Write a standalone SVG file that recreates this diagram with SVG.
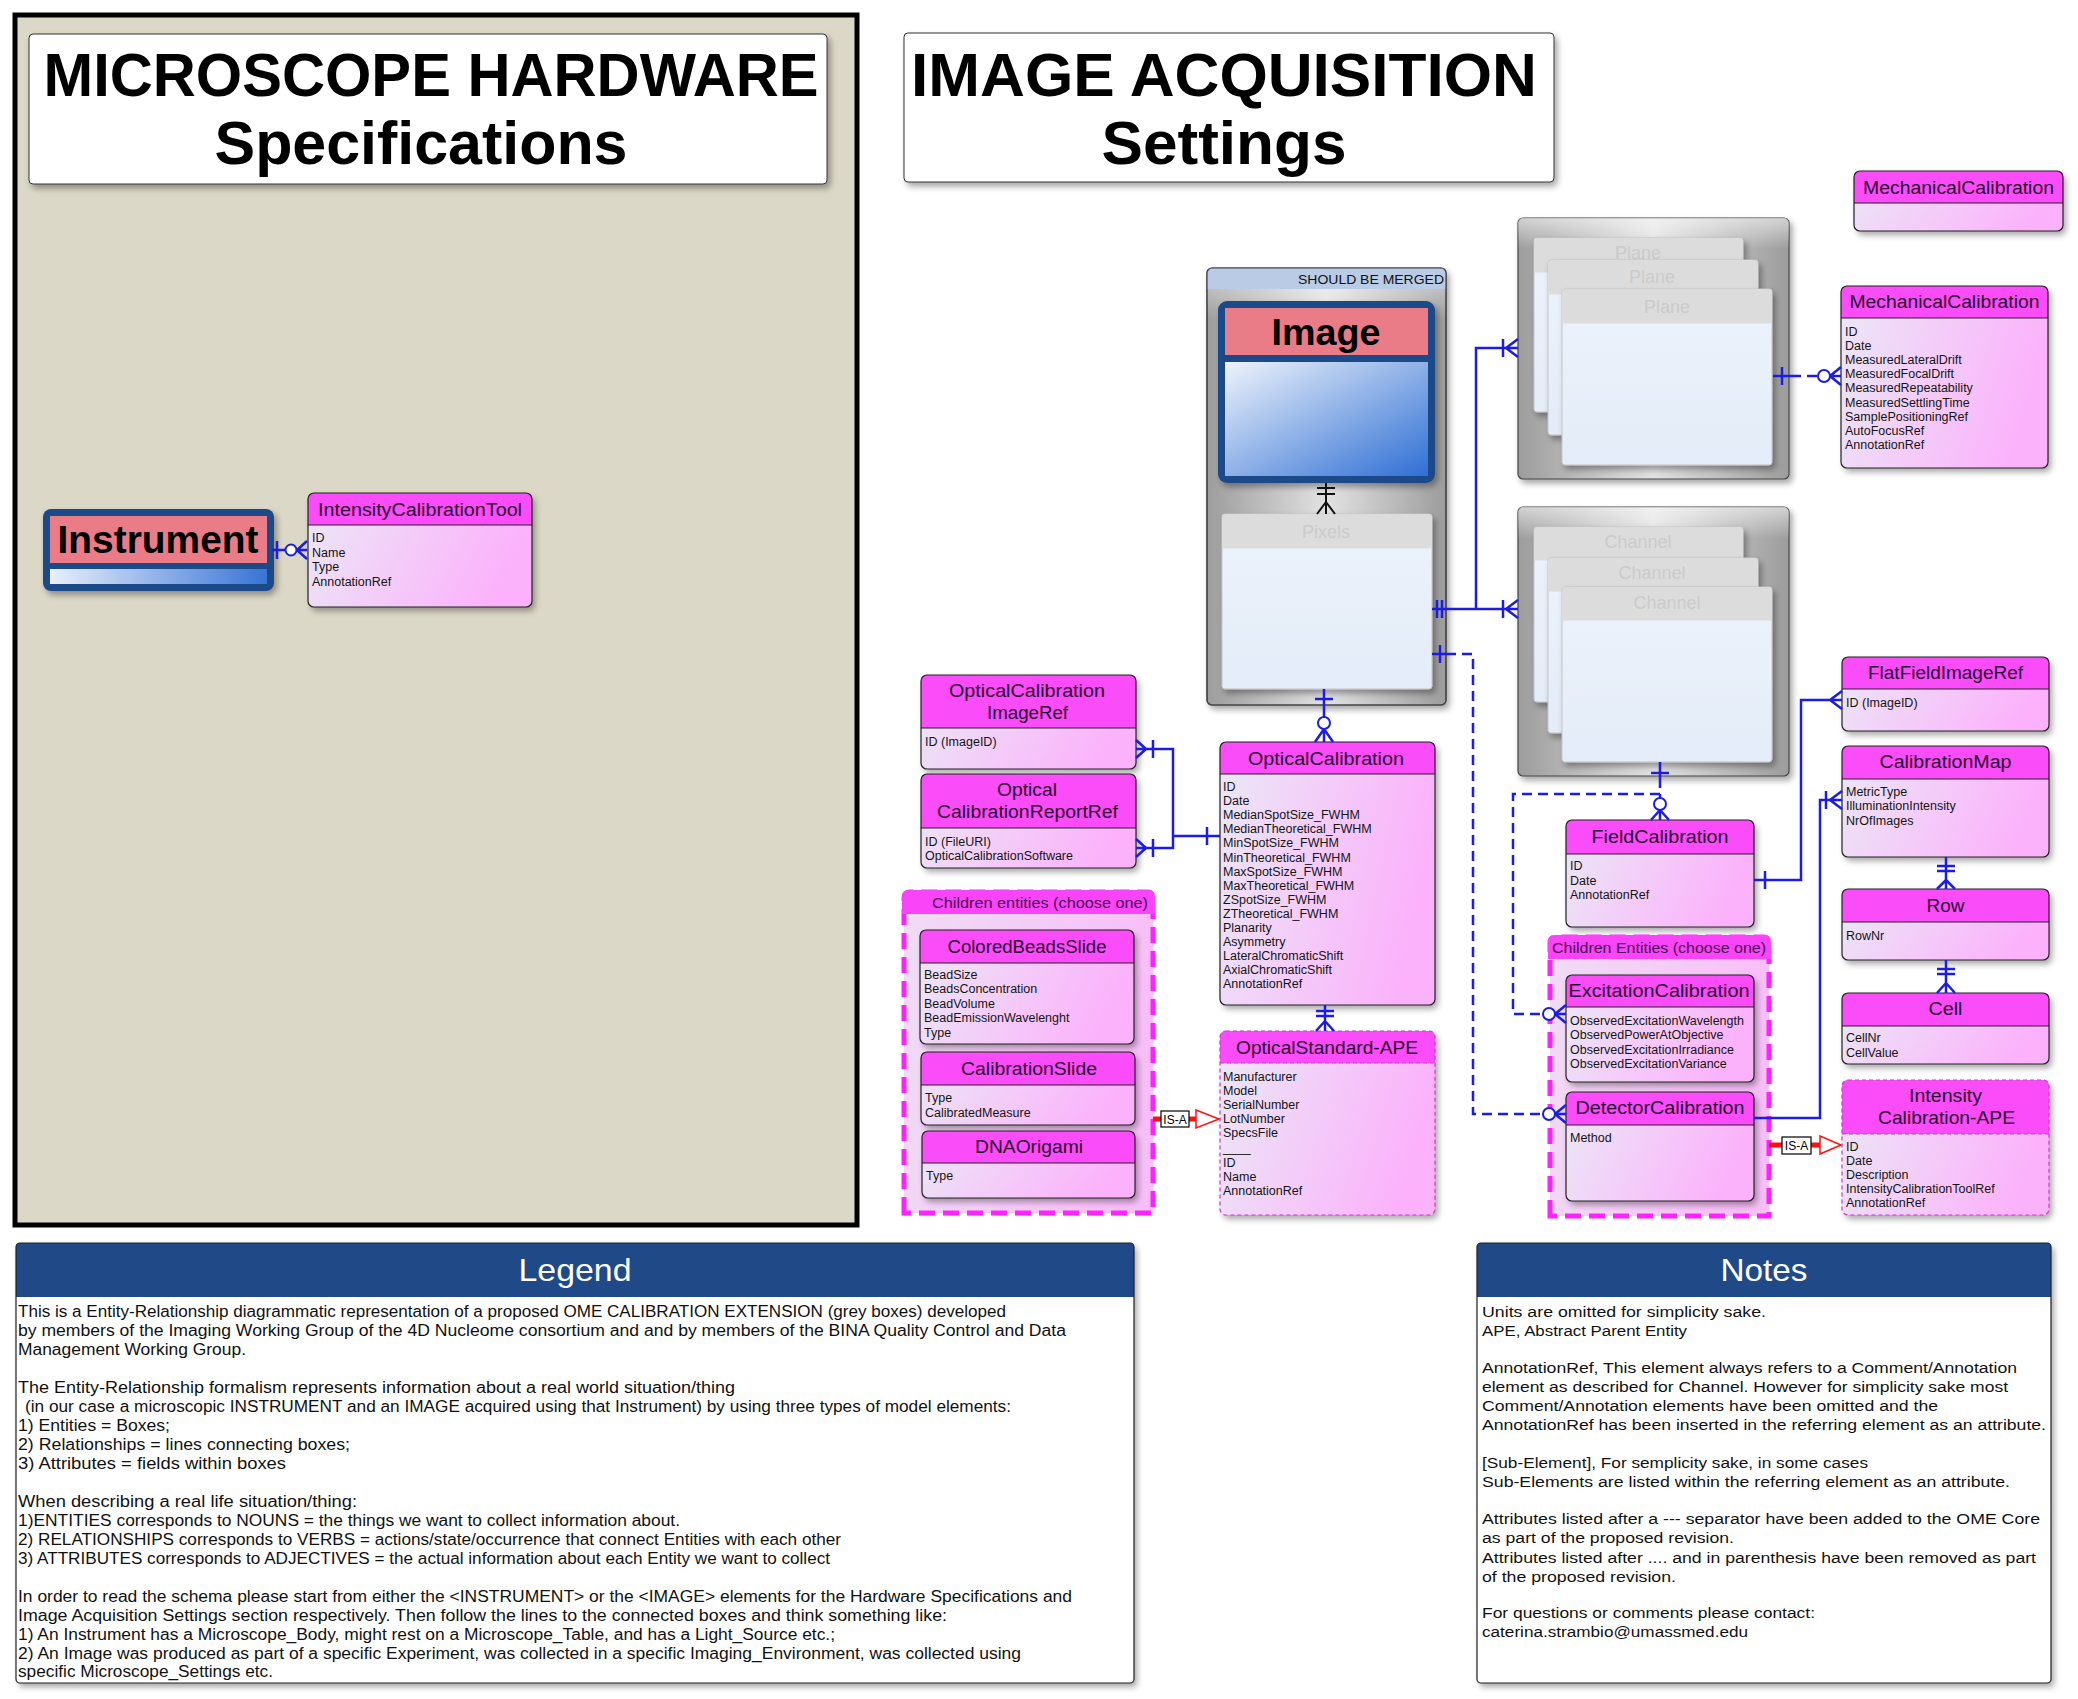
<svg xmlns="http://www.w3.org/2000/svg" width="2078" height="1699" viewBox="0 0 2078 1699">
<style>
  text { font-family: "Liberation Sans", Arial, sans-serif; }
  .body { fill: url(#gBody); }
  .head { fill: #fa4cf8; }
  .frame { fill: none; stroke: #222; stroke-width: 1.2; }
  .frameD { fill: none; stroke: #c83cc8; stroke-width: 1.2; stroke-dasharray: 4 3; }
  .sep { stroke: #222; stroke-width: 1.2; }
  .sepD { stroke: #c83cc8; stroke-width: 1.2; stroke-dasharray: 4 3; }
  .ttl { font-size: 18px; fill: #2a0830; text-anchor: middle; }
  .att { font-size: 12.5px; fill: #151515; }
  .cardTxt { font-size: 18px; fill: #cbcbcb; text-anchor: middle; }
  .card { fill: url(#gCard); stroke: #c4c4c4; stroke-width: 1; }
  .cardHead { fill: #dcdcdc; }
  .grp { fill: url(#gGroup); stroke: #ff22ff; stroke-width: 5; stroke-dasharray: 16 8; }
  .grpBand { fill: #fa44f8; }
  .grpTxt { font-size: 14px; fill: #4a0a52; text-anchor: middle; }
  .ln { fill: none; stroke: #1c1ce6; stroke-width: 2.5; }
  .dash { fill: none; stroke: #1c1ce6; stroke-width: 2.5; stroke-dasharray: 10 6; }
  .ring { fill: #fff; stroke: #1c1ce6; stroke-width: 2; }
  .blk { fill: none; stroke: #111; stroke-width: 2; }
  .isa { fill: none; stroke: #ff1010; stroke-width: 5; }
  .isaBox { fill: #fff; stroke: #000; stroke-width: 1.2; }
  .isaTxt { font-size: 12px; fill: #000; text-anchor: middle; }
  .tri { fill: #fff; stroke: #ff1010; stroke-width: 1.5; }
  .big { font-size: 61px; font-weight: bold; fill: #000; text-anchor: middle; }
  .lg { font-size: 16px; fill: #111; }
  .nt { font-size: 15.5px; fill: #111; }
  .hdrTxt { font-size: 32px; fill: #fff; text-anchor: middle; }
</style>
<defs>
  <linearGradient id="gBody" x1="0" y1="0" x2="1" y2="0.25">
    <stop offset="0" stop-color="#ebe8f6"/>
    <stop offset="1" stop-color="#fbb2fb"/>
  </linearGradient>
  <linearGradient id="gGroup" x1="0" y1="0" x2="1" y2="0.2">
    <stop offset="0" stop-color="#f0dcf4"/>
    <stop offset="1" stop-color="#f8bef8"/>
  </linearGradient>
  <linearGradient id="gCard" x1="0" y1="0" x2="0" y2="1">
    <stop offset="0" stop-color="#edf3fb"/>
    <stop offset="1" stop-color="#e3ecf8"/>
  </linearGradient>
  <linearGradient id="gGray" x1="0" y1="0" x2="1" y2="0">
    <stop offset="0" stop-color="#9c9c9c"/>
    <stop offset="0.5" stop-color="#e2e2e2"/>
    <stop offset="1" stop-color="#9c9c9c"/>
  </linearGradient>
  <linearGradient id="gGrayTop" x1="0" y1="0" x2="0" y2="1">
    <stop offset="0" stop-color="#ffffff" stop-opacity="0.55"/>
    <stop offset="0.12" stop-color="#ffffff" stop-opacity="0"/>
    <stop offset="1" stop-color="#ffffff" stop-opacity="0"/>
  </linearGradient>
  <linearGradient id="gBlue" x1="0" y1="0" x2="1" y2="1">
    <stop offset="0" stop-color="#eef3fb"/>
    <stop offset="1" stop-color="#2f6fd4"/>
  </linearGradient>
  <linearGradient id="gBar" x1="0" y1="0" x2="1" y2="0">
    <stop offset="0" stop-color="#e8effa"/>
    <stop offset="1" stop-color="#3874d6"/>
  </linearGradient>
  <filter id="sh" x="-10%" y="-10%" width="130%" height="130%">
    <feDropShadow dx="3" dy="4" stdDeviation="3" flood-color="#000" flood-opacity="0.35"/>
  </filter>
</defs>

<!-- hardware panel -->
<rect x="15" y="15" width="842" height="1210" fill="#dcd8c7" stroke="#000" stroke-width="5"/>

<g id="title-hardware">
  <rect x="29" y="34" width="798" height="150" rx="4" fill="#fff" stroke="#333" stroke-width="1" filter="url(#sh)"/>
  <text class="big" x="431" y="96" textLength="775" lengthAdjust="spacingAndGlyphs">MICROSCOPE HARDWARE</text>
  <text class="big" x="421" y="164" textLength="413" lengthAdjust="spacingAndGlyphs">Specifications</text>
</g>

<g id="title-acquisition">
  <rect x="904" y="33" width="650" height="149" rx="4" fill="#fff" stroke="#333" stroke-width="1" filter="url(#sh)"/>
  <text class="big" x="1224" y="96" textLength="626" lengthAdjust="spacingAndGlyphs">IMAGE ACQUISITION</text>
  <text class="big" x="1224" y="164" textLength="245" lengthAdjust="spacingAndGlyphs">Settings</text>
</g>

<!-- Instrument -->
<g id="instrument">
  <rect x="43" y="509" width="231" height="82" rx="8" fill="#1f4a87" filter="url(#sh)"/>
  <rect x="50" y="516" width="217" height="47" fill="#e97c86"/>
  <rect x="50" y="569" width="217" height="15" fill="url(#gBar)"/>
  <text x="158" y="553" font-size="38" font-weight="bold" text-anchor="middle" textLength="201" lengthAdjust="spacingAndGlyphs">Instrument</text>
</g>

<g id="intensity-calibration-tool">
  <rect class="body" x="308" y="493" width="224" height="114" rx="6" filter="url(#sh)"/>
  <path class="head" d="M308,525 V499 Q308,493 314,493 H526 Q532,493 532,499 V525 Z"/>
  <line class="sep" x1="308" y1="525" x2="532" y2="525"/>
  <rect class="frame" x="308" y="493" width="224" height="114" rx="6"/>
  <text class="ttl" x="420" y="516" textLength="204" lengthAdjust="spacingAndGlyphs">IntensityCalibrationTool</text>
  <text class="att" x="312" y="542">ID<tspan x="312" dy="14.7">Name</tspan><tspan x="312" dy="14.7">Type</tspan><tspan x="312" dy="14.7">AnnotationRef</tspan></text>
</g>

<!-- Image container -->
<g id="image-group">
  <rect x="1207" y="268" width="239" height="437" rx="5" fill="url(#gGray)" stroke="#444" stroke-width="1.2" filter="url(#sh)"/>
  <rect x="1207" y="268" width="239" height="437" rx="5" fill="url(#gGrayTop)"/>
  <path d="M1207,289 V273 Q1207,268 1212,268 H1441 Q1446,268 1446,273 V289 Z" fill="#b9cbe5"/>
  <rect x="1207" y="268" width="239" height="437" rx="5" fill="none" stroke="#444" stroke-width="1.2"/>
  <text x="1444" y="284" font-size="13" text-anchor="end" textLength="146" lengthAdjust="spacingAndGlyphs" fill="#111">SHOULD BE MERGED</text>
</g>

<g id="image">
  <rect x="1218" y="301" width="217" height="182" rx="9" fill="#1f4a87" filter="url(#sh)"/>
  <rect x="1225" y="308" width="203" height="47" fill="#e97c86"/>
  <rect x="1225" y="362" width="203" height="114" fill="url(#gBlue)"/>
  <text x="1326" y="345" font-size="36" font-weight="bold" text-anchor="middle" textLength="109" lengthAdjust="spacingAndGlyphs">Image</text>
</g>

<g id="pixels">
  <rect class="card" x="1222" y="514" width="210" height="175" rx="3" filter="url(#sh)"/>
  <rect class="cardHead" x="1222.5" y="514.5" width="209" height="34"/>
  <text class="cardTxt" x="1326" y="538">Pixels</text>
</g>

<!-- Plane stack -->
<g id="plane">
  <rect x="1518" y="218" width="271" height="261" rx="5" fill="url(#gGray)" stroke="#444" stroke-width="1.2" filter="url(#sh)"/>
  <rect x="1518" y="218" width="271" height="261" rx="5" fill="url(#gGrayTop)"/>
  <rect class="card" x="1534" y="238" width="209" height="174" rx="3" filter="url(#sh)"/>
  <rect class="cardHead" x="1534.5" y="238.5" width="208" height="34"/>
  <text class="cardTxt" x="1638" y="259">Plane</text>
  <rect class="card" x="1548" y="260" width="210" height="175" rx="3" filter="url(#sh)"/>
  <rect class="cardHead" x="1548.5" y="260.5" width="209" height="34"/>
  <text class="cardTxt" x="1652" y="283">Plane</text>
  <rect class="card" x="1562" y="289" width="210" height="176" rx="3" filter="url(#sh)"/>
  <rect class="cardHead" x="1562.5" y="289.5" width="209" height="34"/>
  <text class="cardTxt" x="1667" y="313">Plane</text>
</g>

<!-- Channel stack -->
<g id="channel">
  <rect x="1518" y="507" width="271" height="269" rx="5" fill="url(#gGray)" stroke="#444" stroke-width="1.2" filter="url(#sh)"/>
  <rect x="1518" y="507" width="271" height="269" rx="5" fill="url(#gGrayTop)"/>
  <rect class="card" x="1534" y="527" width="209" height="175" rx="3" filter="url(#sh)"/>
  <rect class="cardHead" x="1534.5" y="527.5" width="208" height="33"/>
  <text class="cardTxt" x="1638" y="548">Channel</text>
  <rect class="card" x="1548" y="558" width="210" height="175" rx="3" filter="url(#sh)"/>
  <rect class="cardHead" x="1548.5" y="558.5" width="209" height="33"/>
  <text class="cardTxt" x="1652" y="579">Channel</text>
  <rect class="card" x="1562" y="587" width="210" height="175" rx="3" filter="url(#sh)"/>
  <rect class="cardHead" x="1562.5" y="587.5" width="209" height="33"/>
  <text class="cardTxt" x="1667" y="609">Channel</text>
</g>

<!-- Mechanical calibration (header only) -->
<g id="mechanical-calibration-small">
  <rect class="body" x="1854" y="171" width="209" height="60" rx="6" filter="url(#sh)"/>
  <path class="head" d="M1854,203 V177 Q1854,171 1860,171 H2057 Q2063,171 2063,177 V203 Z"/>
  <line class="sep" x1="1854" y1="203" x2="2063" y2="203"/>
  <rect class="frame" x="1854" y="171" width="209" height="60" rx="6"/>
  <text class="ttl" x="1958.5" y="194" textLength="191" lengthAdjust="spacingAndGlyphs">MechanicalCalibration</text>
</g>

<g id="mechanical-calibration">
  <rect class="body" x="1841" y="286" width="207" height="182" rx="6" filter="url(#sh)"/>
  <path class="head" d="M1841,318 V292 Q1841,286 1847,286 H2042 Q2048,286 2048,292 V318 Z"/>
  <line class="sep" x1="1841" y1="318" x2="2048" y2="318"/>
  <rect class="frame" x="1841" y="286" width="207" height="182" rx="6"/>
  <text class="ttl" x="1944.5" y="308" textLength="190" lengthAdjust="spacingAndGlyphs">MechanicalCalibration</text>
  <text class="att" x="1845" y="336">ID<tspan x="1845" dy="14.1">Date</tspan><tspan x="1845" dy="14.1">MeasuredLateralDrift</tspan><tspan x="1845" dy="14.1">MeasuredFocalDrift</tspan><tspan x="1845" dy="14.1">MeasuredRepeatability</tspan><tspan x="1845" dy="14.1">MeasuredSettlingTime</tspan><tspan x="1845" dy="14.1">SamplePositioningRef</tspan><tspan x="1845" dy="14.1">AutoFocusRef</tspan><tspan x="1845" dy="14.1">AnnotationRef</tspan></text>
</g>

<g id="flat-field-image-ref">
  <rect class="body" x="1842" y="657" width="207" height="74" rx="6" filter="url(#sh)"/>
  <path class="head" d="M1842,689 V663 Q1842,657 1848,657 H2043 Q2049,657 2049,663 V689 Z"/>
  <line class="sep" x1="1842" y1="689" x2="2049" y2="689"/>
  <rect class="frame" x="1842" y="657" width="207" height="74" rx="6"/>
  <text class="ttl" x="1945.5" y="679" textLength="155" lengthAdjust="spacingAndGlyphs">FlatFieldImageRef</text>
  <text class="att" x="1846" y="707">ID (ImageID)</text>
</g>

<g id="calibration-map">
  <rect class="body" x="1842" y="746" width="207" height="111" rx="6" filter="url(#sh)"/>
  <path class="head" d="M1842,779 V752 Q1842,746 1848,746 H2043 Q2049,746 2049,752 V779 Z"/>
  <line class="sep" x1="1842" y1="779" x2="2049" y2="779"/>
  <rect class="frame" x="1842" y="746" width="207" height="111" rx="6"/>
  <text class="ttl" x="1945.5" y="768" textLength="132" lengthAdjust="spacingAndGlyphs">CalibrationMap</text>
  <text class="att" x="1846" y="796">MetricType<tspan x="1846" dy="14.3">IlluminationIntensity</tspan><tspan x="1846" dy="14.3">NrOfImages</tspan></text>
</g>

<g id="row">
  <rect class="body" x="1842" y="889" width="207" height="71" rx="6" filter="url(#sh)"/>
  <path class="head" d="M1842,922 V895 Q1842,889 1848,889 H2043 Q2049,889 2049,895 V922 Z"/>
  <line class="sep" x1="1842" y1="922" x2="2049" y2="922"/>
  <rect class="frame" x="1842" y="889" width="207" height="71" rx="6"/>
  <text class="ttl" x="1945.5" y="912" textLength="38" lengthAdjust="spacingAndGlyphs">Row</text>
  <text class="att" x="1846" y="940">RowNr</text>
</g>

<g id="cell">
  <rect class="body" x="1842" y="993" width="207" height="71" rx="6" filter="url(#sh)"/>
  <path class="head" d="M1842,1026 V999 Q1842,993 1848,993 H2043 Q2049,993 2049,999 V1026 Z"/>
  <line class="sep" x1="1842" y1="1026" x2="2049" y2="1026"/>
  <rect class="frame" x="1842" y="993" width="207" height="71" rx="6"/>
  <text class="ttl" x="1945.5" y="1015" textLength="34" lengthAdjust="spacingAndGlyphs">Cell</text>
  <text class="att" x="1846" y="1042">CellNr<tspan x="1846" dy="14.5">CellValue</tspan></text>
</g>

<g id="intensity-calibration-ape">
  <rect class="body" x="1842" y="1080" width="207" height="135" rx="6" filter="url(#sh)"/>
  <path class="head" d="M1842,1134 V1086 Q1842,1080 1848,1080 H2043 Q2049,1080 2049,1086 V1134 Z"/>
  <line class="sepD" x1="1842" y1="1134" x2="2049" y2="1134"/>
  <rect class="frameD" x="1842" y="1080" width="207" height="135" rx="6"/>
  <text class="ttl" x="1945.5" y="1102" textLength="73" lengthAdjust="spacingAndGlyphs">Intensity</text>
  <text class="ttl" x="1946.5" y="1124" textLength="137" lengthAdjust="spacingAndGlyphs">Calibration-APE</text>
  <text class="att" x="1846" y="1151">ID<tspan x="1846" dy="14.1">Date</tspan><tspan x="1846" dy="14.1">Description</tspan><tspan x="1846" dy="14.1">IntensityCalibrationToolRef</tspan><tspan x="1846" dy="14.1">AnnotationRef</tspan></text>
</g>

<g id="field-calibration">
  <rect class="body" x="1566" y="820" width="188" height="107" rx="6" filter="url(#sh)"/>
  <path class="head" d="M1566,854 V826 Q1566,820 1572,820 H1748 Q1754,820 1754,826 V854 Z"/>
  <line class="sep" x1="1566" y1="854" x2="1754" y2="854"/>
  <rect class="frame" x="1566" y="820" width="188" height="107" rx="6"/>
  <text class="ttl" x="1660" y="843" textLength="137" lengthAdjust="spacingAndGlyphs">FieldCalibration</text>
  <text class="att" x="1570" y="870">ID<tspan x="1570" dy="14.5">Date</tspan><tspan x="1570" dy="14.5">AnnotationRef</tspan></text>
</g>

<!-- right children group -->
<g id="children-light">
  <path class="grp" d="M1550,1216 V943 Q1550,937 1556,937 H1763 Q1769,937 1769,943 V1216 Z"/>
  <path class="grpBand" d="M1548,959 V942 Q1548,935 1555,935 H1764 Q1771,935 1771,942 V959 Z"/>
  <text class="grpTxt" x="1659" y="953" textLength="214" lengthAdjust="spacingAndGlyphs">Children Entities (choose one)</text>
</g>

<g id="excitation-calibration">
  <rect class="body" x="1566" y="975" width="188" height="107" rx="6" filter="url(#sh)"/>
  <path class="head" d="M1566,1007 V981 Q1566,975 1572,975 H1748 Q1754,975 1754,981 V1007 Z"/>
  <line class="sep" x1="1566" y1="1007" x2="1754" y2="1007"/>
  <rect class="frame" x="1566" y="975" width="188" height="107" rx="6"/>
  <text class="ttl" x="1659" y="997" textLength="181" lengthAdjust="spacingAndGlyphs">ExcitationCalibration</text>
  <text class="att" x="1570" y="1025" font-size="12">ObservedExcitationWavelength<tspan x="1570" dy="14.3">ObservedPowerAtObjective</tspan><tspan x="1570" dy="14.3">ObservedExcitationIrradiance</tspan><tspan x="1570" dy="14.3">ObservedExcitationVariance</tspan></text>
</g>

<g id="detector-calibration">
  <rect class="body" x="1566" y="1092" width="188" height="109" rx="6" filter="url(#sh)"/>
  <path class="head" d="M1566,1125 V1098 Q1566,1092 1572,1092 H1748 Q1754,1092 1754,1098 V1125 Z"/>
  <line class="sep" x1="1566" y1="1125" x2="1754" y2="1125"/>
  <rect class="frame" x="1566" y="1092" width="188" height="109" rx="6"/>
  <text class="ttl" x="1660" y="1114" textLength="169" lengthAdjust="spacingAndGlyphs">DetectorCalibration</text>
  <text class="att" x="1570" y="1142">Method</text>
</g>

<!-- optical references -->
<g id="optical-calibration-image-ref">
  <rect class="body" x="921" y="675" width="215" height="94" rx="6" filter="url(#sh)"/>
  <path class="head" d="M921,728 V681 Q921,675 927,675 H1130 Q1136,675 1136,681 V728 Z"/>
  <line class="sep" x1="921" y1="728" x2="1136" y2="728"/>
  <rect class="frame" x="921" y="675" width="215" height="94" rx="6"/>
  <text class="ttl" x="1027" y="697" textLength="156" lengthAdjust="spacingAndGlyphs">OpticalCalibration</text>
  <text class="ttl" x="1027.5" y="719" textLength="81" lengthAdjust="spacingAndGlyphs">ImageRef</text>
  <text class="att" x="925" y="746">ID (ImageID)</text>
</g>

<g id="optical-calibration-report-ref">
  <rect class="body" x="921" y="774" width="215" height="94" rx="6" filter="url(#sh)"/>
  <path class="head" d="M921,828 V780 Q921,774 927,774 H1130 Q1136,774 1136,780 V828 Z"/>
  <line class="sep" x1="921" y1="828" x2="1136" y2="828"/>
  <rect class="frame" x="921" y="774" width="215" height="94" rx="6"/>
  <text class="ttl" x="1027" y="796" textLength="60" lengthAdjust="spacingAndGlyphs">Optical</text>
  <text class="ttl" x="1027.5" y="818" textLength="181" lengthAdjust="spacingAndGlyphs">CalibrationReportRef</text>
  <text class="att" x="925" y="846">ID (FileURI)<tspan x="925" dy="13.5">OpticalCalibrationSoftware</tspan></text>
</g>

<g id="optical-calibration">
  <rect class="body" x="1220" y="742" width="215" height="263" rx="6" filter="url(#sh)"/>
  <path class="head" d="M1220,774 V748 Q1220,742 1226,742 H1429 Q1435,742 1435,748 V774 Z"/>
  <line class="sep" x1="1220" y1="774" x2="1435" y2="774"/>
  <rect class="frame" x="1220" y="742" width="215" height="263" rx="6"/>
  <text class="ttl" x="1326" y="765" textLength="156" lengthAdjust="spacingAndGlyphs">OpticalCalibration</text>
  <text class="att" x="1223" y="791">ID<tspan x="1223" dy="14.1">Date</tspan><tspan x="1223" dy="14.1">MedianSpotSize_FWHM</tspan><tspan x="1223" dy="14.1">MedianTheoretical_FWHM</tspan><tspan x="1223" dy="14.1">MinSpotSize_FWHM</tspan><tspan x="1223" dy="14.1">MinTheoretical_FWHM</tspan><tspan x="1223" dy="14.1">MaxSpotSize_FWHM</tspan><tspan x="1223" dy="14.1">MaxTheoretical_FWHM</tspan><tspan x="1223" dy="14.1">ZSpotSize_FWHM</tspan><tspan x="1223" dy="14.1">ZTheoretical_FWHM</tspan><tspan x="1223" dy="14.1">Planarity</tspan><tspan x="1223" dy="14.1">Asymmetry</tspan><tspan x="1223" dy="14.1">LateralChromaticShift</tspan><tspan x="1223" dy="14.1">AxialChromaticShift</tspan><tspan x="1223" dy="14.1">AnnotationRef</tspan></text>
</g>

<g id="optical-standard-ape">
  <rect class="body" x="1220" y="1031" width="215" height="184" rx="6" filter="url(#sh)"/>
  <path class="head" d="M1220,1063 V1037 Q1220,1031 1226,1031 H1429 Q1435,1031 1435,1037 V1063 Z"/>
  <line class="sepD" x1="1220" y1="1063" x2="1435" y2="1063"/>
  <rect class="frameD" x="1220" y="1031" width="215" height="184" rx="6"/>
  <text class="ttl" x="1327" y="1054" textLength="182" lengthAdjust="spacingAndGlyphs">OpticalStandard-APE</text>
  <text class="att" x="1223" y="1081">Manufacturer<tspan x="1223" dy="14">Model</tspan><tspan x="1223" dy="14">SerialNumber</tspan><tspan x="1223" dy="14">LotNumber</tspan><tspan x="1223" dy="14">SpecsFile</tspan><tspan x="1223" dy="15">____</tspan><tspan x="1223" dy="15">ID</tspan><tspan x="1223" dy="14">Name</tspan><tspan x="1223" dy="13.5">AnnotationRef</tspan></text>
</g>

<!-- left children group -->
<g id="children-optical">
  <path class="grp" d="M904,1213 V898 Q904,892 910,892 H1147 Q1153,892 1153,898 V1213 Z"/>
  <path class="grpBand" d="M902,914 V897 Q902,890 909,890 H1148 Q1155,890 1155,897 V914 Z"/>
  <text class="grpTxt" x="1040" y="908" textLength="216" lengthAdjust="spacingAndGlyphs">Children entities (choose one)</text>
</g>

<g id="colored-beads-slide">
  <rect class="body" x="920" y="930" width="214" height="114" rx="6" filter="url(#sh)"/>
  <path class="head" d="M920,963 V936 Q920,930 926,930 H1128 Q1134,930 1134,936 V963 Z"/>
  <line class="sep" x1="920" y1="963" x2="1134" y2="963"/>
  <rect class="frame" x="920" y="930" width="214" height="114" rx="6"/>
  <text class="ttl" x="1027" y="953" textLength="159" lengthAdjust="spacingAndGlyphs">ColoredBeadsSlide</text>
  <text class="att" x="924" y="979">BeadSize<tspan x="924" dy="14.4">BeadsConcentration</tspan><tspan x="924" dy="14.4">BeadVolume</tspan><tspan x="924" dy="14.4">BeadEmissionWavelenght</tspan><tspan x="924" dy="14.4">Type</tspan></text>
</g>

<g id="calibration-slide">
  <rect class="body" x="921" y="1052" width="214" height="73" rx="6" filter="url(#sh)"/>
  <path class="head" d="M921,1085 V1058 Q921,1052 927,1052 H1129 Q1135,1052 1135,1058 V1085 Z"/>
  <line class="sep" x1="921" y1="1085" x2="1135" y2="1085"/>
  <rect class="frame" x="921" y="1052" width="214" height="73" rx="6"/>
  <text class="ttl" x="1029" y="1075" textLength="136" lengthAdjust="spacingAndGlyphs">CalibrationSlide</text>
  <text class="att" x="925" y="1102">Type<tspan x="925" dy="14.5">CalibratedMeasure</tspan></text>
</g>

<g id="dna-origami">
  <rect class="body" x="922" y="1131" width="213" height="67" rx="6" filter="url(#sh)"/>
  <path class="head" d="M922,1163 V1137 Q922,1131 928,1131 H1129 Q1135,1131 1135,1137 V1163 Z"/>
  <line class="sep" x1="922" y1="1163" x2="1135" y2="1163"/>
  <rect class="frame" x="922" y="1131" width="213" height="67" rx="6"/>
  <text class="ttl" x="1029" y="1153" textLength="108" lengthAdjust="spacingAndGlyphs">DNAOrigami</text>
  <text class="att" x="926" y="1180">Type</text>
</g>

<!-- relationships -->
<g id="connectors">
  <!-- Instrument to IntensityCalibrationTool -->
  <path class="ln" d="M272,550 H307 M277,541 V559 M297,550 L307,541 M297,550 L307,559"/>
  <circle class="ring" cx="291" cy="550" r="5.5"/>

  <!-- Image to Pixels -->
  <path class="blk" d="M1326,483 V514 M1317,488 H1335 M1317,494 H1335 M1326,502 L1317,514 M1326,502 L1335,514"/>

  <!-- Pixels to Plane and Channel -->
  <path class="ln" d="M1432,609 H1518 M1476,609 V348 H1518 M1437,600 V618 M1442,600 V618 M1503,339 V357 M1506,348 L1518,339 M1506,348 L1518,357 M1503,600 V618 M1506,609 L1518,600 M1506,609 L1518,618"/>

  <!-- Pixels to DetectorCalibration -->
  <path class="ln" d="M1432,654 H1446 M1440,645 V663"/>
  <path class="dash" d="M1446,654 H1473 V1114 H1543"/>
  <path class="ln" d="M1555,1114 H1566 M1555,1114 L1566,1105 M1555,1114 L1566,1123"/>
  <circle class="ring" cx="1549" cy="1114" r="6"/>

  <!-- Channel to FieldCalibration and ExcitationCalibration -->
  <path class="ln" d="M1660,762 V778 M1651,773 H1669"/>
  <path class="dash" d="M1660,778 V798 M1660,794 H1513 V1014 H1543"/>
  <path class="ln" d="M1660,810 V820 M1660,810 L1651,820 M1660,810 L1669,820"/>
  <circle class="ring" cx="1660" cy="804" r="6"/>
  <path class="ln" d="M1555,1014 H1566 M1555,1014 L1566,1005 M1555,1014 L1566,1023"/>
  <circle class="ring" cx="1549" cy="1014" r="6"/>

  <!-- FieldCalibration to FlatFieldImageRef -->
  <path class="ln" d="M1754,880 H1801 V700 H1842 M1765,871 V889 M1830,700 L1842,691 M1830,700 L1842,709"/>

  <!-- DetectorCalibration to CalibrationMap -->
  <path class="ln" d="M1754,1118 H1820 V800 H1842 M1826,791 V809 M1830,800 L1842,791 M1830,800 L1842,809"/>

  <!-- CalibrationMap to Row to Cell -->
  <path class="ln" d="M1946,857 V889 M1937,866 H1955 M1937,871 H1955 M1946,880 L1937,889 M1946,880 L1955,889"/>
  <path class="ln" d="M1946,960 V993 M1937,969 H1955 M1937,974 H1955 M1946,983 L1937,993 M1946,983 L1955,993"/>

  <!-- Plane to MechanicalCalibration -->
  <path class="ln" d="M1773,376 H1791 M1782,367 V385"/>
  <path class="dash" d="M1791,376 H1818"/>
  <path class="ln" d="M1830,376 H1841 M1830,376 L1841,367 M1830,376 L1841,385"/>
  <circle class="ring" cx="1824" cy="376" r="6"/>

  <!-- Pixels to OpticalCalibration -->
  <path class="ln" d="M1324,689 V717 M1315,699 H1333 M1324,729 V742 M1324,729 L1315,742 M1324,729 L1333,742"/>
  <circle class="ring" cx="1324" cy="723" r="6"/>

  <!-- OpticalCalibration to its image and report references -->
  <path class="ln" d="M1136,749 H1173 V848 H1136 M1173,836 H1220 M1153,740 V758 M1153,839 V857 M1146,749 L1136,740 M1146,749 L1136,758 M1146,848 L1136,839 M1146,848 L1136,857 M1207,827 V845"/>

  <!-- OpticalCalibration to OpticalStandard-APE -->
  <path class="ln" d="M1325,1005 V1031 M1316,1011 H1334 M1316,1016 H1334 M1325,1021 L1316,1031 M1325,1021 L1334,1031"/>

  <!-- IS-A links -->
  <path class="isa" d="M1153,1119 H1196"/>
  <rect class="isaBox" x="1161" y="1111" width="28" height="16"/>
  <text class="isaTxt" x="1175" y="1123.5">IS-A</text>
  <polygon class="tri" points="1196,1110 1219,1119 1196,1128"/>

  <path class="isa" d="M1769,1145 H1820"/>
  <rect class="isaBox" x="1782" y="1137" width="29" height="17"/>
  <text class="isaTxt" x="1796.5" y="1150">IS-A</text>
  <polygon class="tri" points="1820,1136 1841,1145 1820,1154"/>
</g>

<!-- Legend -->
<g id="legend">
  <rect x="16" y="1243" width="1118" height="440" rx="4" fill="#fff" filter="url(#sh)"/>
  <path d="M16,1297 V1247 Q16,1243 20,1243 H1130 Q1134,1243 1134,1247 V1297 Z" fill="#1f4a87"/>
  <rect x="16" y="1243" width="1118" height="440" rx="4" fill="none" stroke="#222" stroke-width="1.2"/>
  <text class="hdrTxt" x="575" y="1281" textLength="113" lengthAdjust="spacingAndGlyphs">Legend</text>
  <text class="lg" x="18" y="1317" textLength="988" lengthAdjust="spacingAndGlyphs">This is a Entity-Relationship diagrammatic representation of a proposed OME CALIBRATION EXTENSION (grey boxes) developed</text>
  <text class="lg" x="18" y="1336" textLength="1048" lengthAdjust="spacingAndGlyphs">by members of the Imaging Working Group of the 4D Nucleome consortium and and by members of the BINA Quality Control and Data</text>
  <text class="lg" x="18" y="1355" textLength="228" lengthAdjust="spacingAndGlyphs">Management Working Group.</text>
  <text class="lg" x="18" y="1393" textLength="717" lengthAdjust="spacingAndGlyphs">The Entity-Relationship formalism represents information about a real world situation/thing</text>
  <text class="lg" x="25" y="1412" textLength="986" lengthAdjust="spacingAndGlyphs">(in our case a microscopic INSTRUMENT and an IMAGE acquired using that Instrument) by using three types of model elements:</text>
  <text class="lg" x="18" y="1431" textLength="152" lengthAdjust="spacingAndGlyphs">1) Entities = Boxes;</text>
  <text class="lg" x="18" y="1450" textLength="332" lengthAdjust="spacingAndGlyphs">2) Relationships = lines connecting boxes;</text>
  <text class="lg" x="18" y="1469" textLength="268" lengthAdjust="spacingAndGlyphs">3) Attributes = fields within boxes</text>
  <text class="lg" x="18" y="1507" textLength="339" lengthAdjust="spacingAndGlyphs">When describing  a real life situation/thing:</text>
  <text class="lg" x="18" y="1526" textLength="662" lengthAdjust="spacingAndGlyphs">1)ENTITIES corresponds to NOUNS = the things we want to collect information about.</text>
  <text class="lg" x="18" y="1545" textLength="823" lengthAdjust="spacingAndGlyphs">2) RELATIONSHIPS corresponds to VERBS = actions/state/occurrence that connect Entities with each other</text>
  <text class="lg" x="18" y="1564" textLength="812" lengthAdjust="spacingAndGlyphs">3) ATTRIBUTES corresponds to ADJECTIVES = the actual information about each Entity we want to collect</text>
  <text class="lg" x="18" y="1602" textLength="1054" lengthAdjust="spacingAndGlyphs">In order to read the schema please start from either the &lt;INSTRUMENT&gt; or the &lt;IMAGE&gt; elements for the Hardware Specifications and</text>
  <text class="lg" x="18" y="1621" textLength="929" lengthAdjust="spacingAndGlyphs">Image Acquisition Settings section respectively. Then follow the lines to the connected boxes and think something like:</text>
  <text class="lg" x="18" y="1640" textLength="817" lengthAdjust="spacingAndGlyphs">1) An Instrument has a Microscope_Body, might rest on a Microscope_Table, and has a Light_Source etc.;</text>
  <text class="lg" x="18" y="1659" textLength="1003" lengthAdjust="spacingAndGlyphs">2) An Image was produced as part of a specific Experiment, was collected in a specific Imaging_Environment, was collected using</text>
  <text class="lg" x="18" y="1677" textLength="255" lengthAdjust="spacingAndGlyphs">specific Microscope_Settings etc.</text>
</g>

<!-- Notes -->
<g id="notes">
  <rect x="1477" y="1243" width="574" height="440" rx="4" fill="#fff" filter="url(#sh)"/>
  <path d="M1477,1297 V1247 Q1477,1243 1481,1243 H2047 Q2051,1243 2051,1247 V1297 Z" fill="#1f4a87"/>
  <rect x="1477" y="1243" width="574" height="440" rx="4" fill="none" stroke="#222" stroke-width="1.2"/>
  <text class="hdrTxt" x="1764" y="1281" textLength="87" lengthAdjust="spacingAndGlyphs">Notes</text>
  <text class="nt" x="1482" y="1317" textLength="284" lengthAdjust="spacingAndGlyphs">Units are omitted for simplicity sake.</text>
  <text class="nt" x="1482" y="1336" textLength="205" lengthAdjust="spacingAndGlyphs">APE, Abstract Parent Entity</text>
  <text class="nt" x="1482" y="1373" textLength="535" lengthAdjust="spacingAndGlyphs">AnnotationRef, This element always refers to a Comment/Annotation</text>
  <text class="nt" x="1482" y="1392" textLength="526" lengthAdjust="spacingAndGlyphs">element as described for Channel. However for simplicity sake most</text>
  <text class="nt" x="1482" y="1411" textLength="456" lengthAdjust="spacingAndGlyphs">Comment/Annotation elements have been omitted and the</text>
  <text class="nt" x="1482" y="1430" textLength="564" lengthAdjust="spacingAndGlyphs">AnnotationRef has been inserted in the referring element as an attribute.</text>
  <text class="nt" x="1482" y="1468" textLength="386" lengthAdjust="spacingAndGlyphs">[Sub-Element], For semplicity sake, in some cases</text>
  <text class="nt" x="1482" y="1487" textLength="528" lengthAdjust="spacingAndGlyphs">Sub-Elements are listed within the referring element as an attribute.</text>
  <text class="nt" x="1482" y="1524" textLength="558" lengthAdjust="spacingAndGlyphs">Attributes listed after a --- separator have been added to the OME Core</text>
  <text class="nt" x="1482" y="1543" textLength="252" lengthAdjust="spacingAndGlyphs">as part of the proposed revision.</text>
  <text class="nt" x="1482" y="1563" textLength="554" lengthAdjust="spacingAndGlyphs">Attributes listed after .... and in parenthesis have been removed as part</text>
  <text class="nt" x="1482" y="1582" textLength="194" lengthAdjust="spacingAndGlyphs">of the proposed revision.</text>
  <text class="nt" x="1482" y="1618" textLength="333" lengthAdjust="spacingAndGlyphs">For questions or comments please contact:</text>
  <text class="nt" x="1482" y="1637" textLength="266" lengthAdjust="spacingAndGlyphs">caterina.strambio@umassmed.edu</text>
</g>
</svg>
